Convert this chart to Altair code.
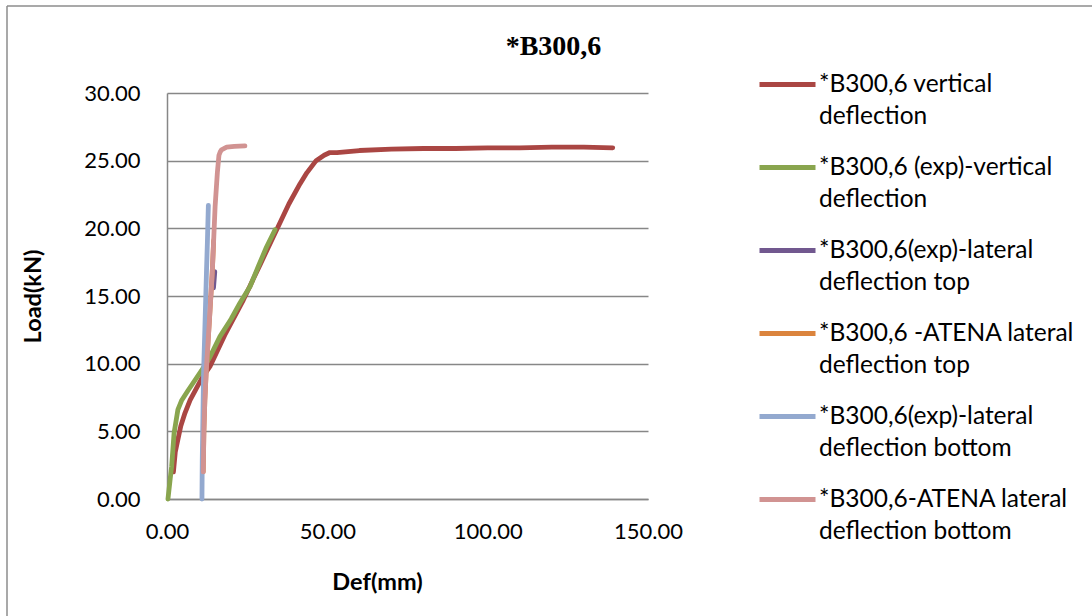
import altair as alt
import pandas as pd

# Series names (legend order) and their line colours
series_names = [
    "*B300,6 vertical\ndeflection",
    "*B300,6 (exp)-vertical\ndeflection",
    "*B300,6(exp)-lateral\ndeflection top",
    "*B300,6 -ATENA lateral\ndeflection top",
    "*B300,6(exp)-lateral\ndeflection bottom",
    "*B300,6-ATENA lateral\ndeflection bottom",
]
series_colors = ["#AA4643", "#89A54E", "#71588F", "#DB843D", "#93A9CF", "#D19392"]

# Deflection (mm) / load (kN) pairs for each series
vert_def = [2.0, 2.6, 3.4, 4.3, 5.6, 7.2, 9.0, 10.8, 13.4, 18.0, 23.8, 29.0, 34.2,
            38.0, 41.5, 43.6, 46.5, 49.0, 50.8, 53.0, 60.0, 70.0, 80.0, 90.0,
            100.0, 110.0, 120.0, 130.0, 139.0]
vert_load = [2.0, 3.5, 4.4, 5.4, 6.35, 7.3, 8.1, 8.9, 9.8, 12.1, 14.7, 17.3, 19.9,
             21.8, 23.3, 24.1, 25.0, 25.4, 25.6, 25.6, 25.75, 25.85, 25.9, 25.9,
             25.95, 25.95, 26.0, 26.0, 25.95]

exp_vert_def = [0.3, 1.0, 1.45, 2.2, 3.4, 4.6, 6.5, 8.5, 10.8, 13.4, 16.5, 20.0,
                22.8, 25.9, 28.5, 31.0, 33.7]
exp_vert_load = [0.0, 1.5, 2.4, 4.85, 6.6, 7.3, 8.0, 8.7, 9.5, 10.5, 12.0, 13.3,
                 14.5, 15.7, 17.2, 18.6, 19.9]

exp_lat_top_def = [14.5, 14.7, 14.9]
exp_lat_top_load = [15.6, 16.2, 16.8]

atena_lat_top_def = [11.3, 11.5, 11.8, 12.2, 13.3, 14.1, 14.55]
atena_lat_top_load = [2.0, 5.0, 7.3, 9.3, 13.5, 16.7, 19.1]

exp_lat_bot_def = [10.9, 11.0, 11.2, 11.4, 11.8, 12.3, 12.6, 12.9]
exp_lat_bot_load = [0.0, 3.0, 6.0, 9.3, 12.5, 16.7, 19.0, 21.7]

atena_lat_bot_def = [11.3, 11.5, 11.8, 12.2, 13.3, 14.1, 14.55, 15.0, 15.7, 16.2,
                     16.6, 17.0, 18.6, 21.0, 24.3]
atena_lat_bot_load = [2.0, 5.0, 7.3, 9.3, 13.5, 16.7, 19.1, 21.6, 24.1, 25.4,
                      25.65, 25.8, 26.0, 26.05, 26.1]

all_def = [vert_def, exp_vert_def, exp_lat_top_def, atena_lat_top_def,
           exp_lat_bot_def, atena_lat_bot_def]
all_load = [vert_load, exp_vert_load, exp_lat_top_load, atena_lat_top_load,
            exp_lat_bot_load, atena_lat_bot_load]

rows = []
for k, (name, xs, ys) in enumerate(zip(series_names, all_def, all_load)):
    for i, (xv, yv) in enumerate(zip(xs, ys)):
        rows.append({"series": name, "k": k, "i": i, "def": xv, "load": yv})
df = pd.DataFrame(rows)

FONT = "Lato"
AXIS_GREY = "#878787"

lines = alt.Chart(df).mark_line(strokeWidth=4.8, strokeCap="round", strokeJoin="round").encode(
    x=alt.X("def:Q",
            scale=alt.Scale(domain=[0, 150], nice=False),
            axis=alt.Axis(values=[0, 50, 100, 150], format=".2f", title="Def(mm)",
                          grid=False, ticks=False, labelPadding=22, labelFlush=False,
                          titleX=210, titleY=83, titleBaseline="middle",
                          titleAlign="center")),
    y=alt.Y("load:Q",
            scale=alt.Scale(domain=[0, 30], nice=False),
            axis=alt.Axis(values=[0, 5, 10, 15, 20, 25, 30], format=".2f",
                          title="Load(kN)", grid=True, ticks=False, labelPadding=27,
                          labelFlush=False,
                          titleX=-134, titleY=203, titleAngle=-90,
                          titleBaseline="middle", titleAlign="center")),
    color=alt.Color("series:N",
                    scale=alt.Scale(domain=series_names, range=series_colors),
                    legend=alt.Legend(title=None, orient="none", legendX=590,
                                      legendY=-39, symbolType="stroke",
                                      symbolSize=3136, symbolStrokeWidth=5,
                                      labelExpr="split(datum.label, '\\n')",
                                      labelBaseline="middle",
                                      labelFont=FONT, labelFontSize=24.5,
                                      labelColor="#000000", labelOffset=1,
                                      labelLimit=400, rowPadding=9)),
    detail="k:N",
    order="i:Q",
)

# Outer chart frame (top and left edges)
frame_top = alt.Chart(pd.DataFrame({"a": [0]})).mark_rule(
    color="#8c8c8c", strokeWidth=1.5).encode(
    x=alt.value(-160), x2=alt.value(925), y=alt.value(-87))
frame_left = alt.Chart(pd.DataFrame({"a": [0]})).mark_rule(
    color="#8c8c8c", strokeWidth=1.5).encode(
    x=alt.value(-160), y=alt.value(-87), y2=alt.value(523))

chart = alt.layer(frame_top, frame_left, lines).properties(
    width=481, height=406,
    title=alt.TitleParams("*B300,6", font="Liberation Serif", fontSize=28,
                          fontWeight="bold", color="#000000", anchor="middle",
                          dx=146, offset=0, dy=78, baseline="alphabetic"),
    autosize=alt.AutoSizeParams(type="none"),
    padding={"left": 167, "top": 93, "right": 444, "bottom": 117},
).configure(
    background="#ffffff", style={"guide-label": {"lineHeight": 32}}
).configure_view(stroke=None).configure_axis(
    domainColor=AXIS_GREY, domainWidth=1.5, gridColor=AXIS_GREY, gridWidth=1.5,
    labelFont=FONT, labelFontSize=22, labelColor="#000000",
    titleFont=FONT, titleFontSize=23.5, titleFontWeight="bold", titleColor="#000000",
)

chart.save("out.html", embed_options={"renderer": "svg", "actions": False})
